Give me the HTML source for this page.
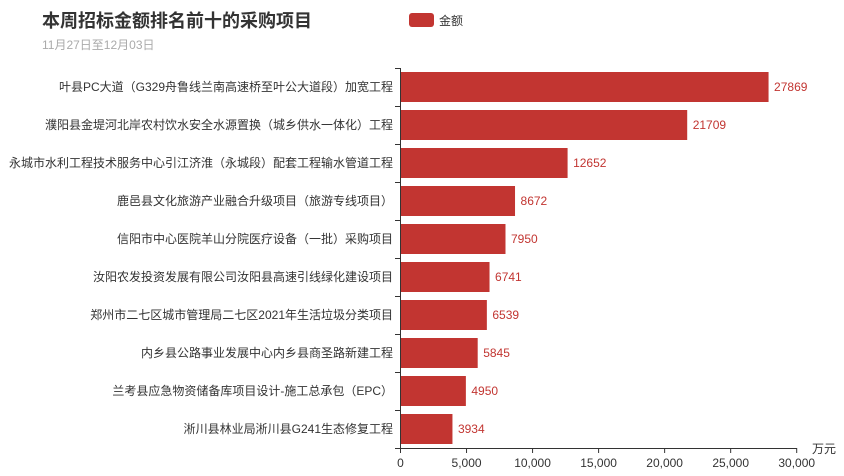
<!DOCTYPE html>
<html><head><meta charset="utf-8"><style>
body{margin:0;background:#fff}
svg{display:block;font-family:"Liberation Sans","Noto Sans CJK SC",sans-serif}
</style></head><body>
<svg width="844" height="476" viewBox="0 0 844 476">
<text x="42" y="27" font-size="18" font-weight="bold" fill="#333">本周招标金额排名前十的采购项目</text>
<text x="42" y="49" font-size="12" fill="#aaa">11月27日至12月03日</text>
<rect x="409" y="13" width="25" height="14" rx="3" fill="#c23531"/>
<text x="439" y="25" font-size="12" fill="#333">金额</text>
<g id="bars"></g>
<g stroke="#333" stroke-width="1" fill="none">
<line x1="400.5" y1="68" x2="400.5" y2="448"/>
<line x1="400" y1="448.5" x2="797" y2="448.5"/>
</g>
<g id="ticks" stroke="#333" stroke-width="1"></g>
<g id="xl" font-size="12" fill="#333" text-anchor="middle"></g>
<text x="812" y="453" font-size="12" fill="#333">万元</text>
</svg>
<script>
var d=[["叶县PC大道（G329舟鲁线兰南高速桥至叶公大道段）加宽工程",27869],
["濮阳县金堤河北岸农村饮水安全水源置换（城乡供水一体化）工程",21709],
["永城市水利工程技术服务中心引江济淮（永城段）配套工程输水管道工程",12652],
["鹿邑县文化旅游产业融合升级项目（旅游专线项目）",8672],
["信阳市中心医院羊山分院医疗设备（一批）采购项目",7950],
["汝阳农发投资发展有限公司汝阳县高速引线绿化建设项目",6741],
["郑州市二七区城市管理局二七区2021年生活垃圾分类项目",6539],
["内乡县公路事业发展中心内乡县商圣路新建工程",5845],
["兰考县应急物资储备库项目设计-施工总承包（EPC）",4950],
["淅川县林业局淅川县G241生态修复工程",3934]];
var ns="http://www.w3.org/2000/svg",s="";
var k=396.2/30000;
d.forEach(function(r,i){var y=68+38*i;var w=r[1]*k;
s+='<rect x="401" y="'+(y+4)+'" width="'+(w-0.5)+'" height="30" fill="#c23531"/>';
s+='<text x="393" y="'+(y+23)+'" font-size="12" fill="#333" text-anchor="end">'+r[0]+'</text>';
s+='<text x="'+(401+w+5)+'" y="'+(y+23)+'" font-size="12" fill="#c23531">'+r[1]+'</text>';});
document.getElementById("bars").innerHTML=s;
var t="";for(var i=0;i<=10;i++){var y=68+38*i+0.5;t+='<line x1="395" y1="'+y+'" x2="400" y2="'+y+'"/>';}
var xl="";for(var j=0;j<=6;j++){var x=400.5+j*5000*k;t+='<line x1="'+x+'" y1="448" x2="'+x+'" y2="453"/>';
xl+='<text x="'+x+'" y="467">'+(j*5000).toLocaleString("en-US")+'</text>';}
document.getElementById("ticks").innerHTML=t;document.getElementById("xl").innerHTML=xl;
</script>
</body></html>
